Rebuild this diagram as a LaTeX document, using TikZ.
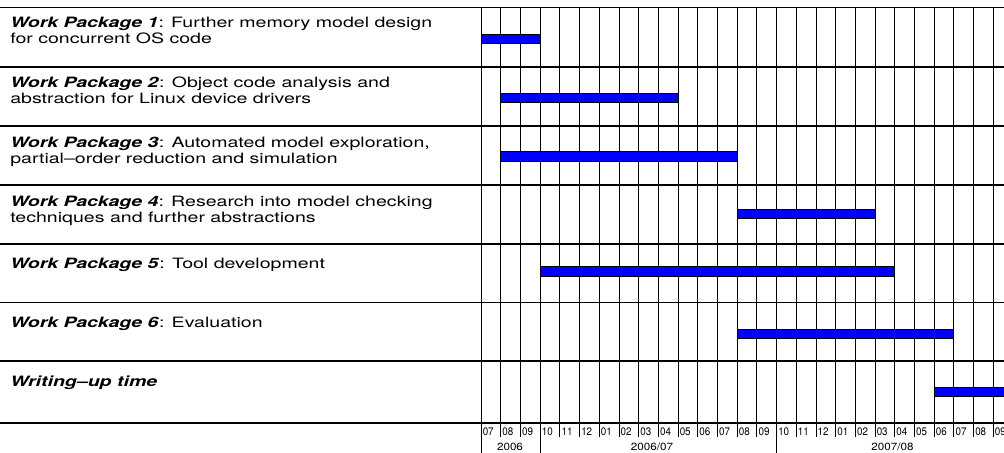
\documentclass[tikz,border=0pt]{standalone}
\usepackage{graphicx}
\usepackage{fontspec}
\setmainfont{TeX Gyre Heros}
\usetikzlibrary{positioning}

% wide label text, as in the chart
\newcommand{\wptext}[1]{\scalebox{1.37}[1]{\begin{tabular}[t]{@{}l@{}}#1\end{tabular}}}
\newcommand{\wpname}[1]{\textbf{\textit{#1}}}

\begin{document}
\begin{tikzpicture}[x=0.75pt, y=-0.75pt,
    wp/.style={anchor=base west, inner sep=0pt, font=\fontsize{10.7}{12}\selectfont},
    month/.style={anchor=base west, inner sep=0pt, font=\fontsize{8.2}{9}\selectfont},
    year/.style={anchor=base, inner sep=0pt, font=\fontsize{7.8}{9}\selectfont},
    rowline/.style={line width=0.8pt},
    gridline/.style={line width=0.6pt},
    bar/.style={draw=black, fill=blue, line width=0.5pt}
  ]
  \useasboundingbox (0,0) rectangle (1004,453);

  % rows
  \foreach \y in {7.5,67,126,185,244,302.5,361,423}
    \draw[rowline] (0,\y) -- (1004,\y);

  % months
  \foreach \m [count=\i from 0] in {07,08,09,10,11,12,01,02,03,04,05,06,07,08,09,10,11,12,01,02,03,04,05,06,07,08,09} {
    \draw[gridline] ({481+19.7*\i},7.5) -- ({481+19.7*\i},437);
    \node[month] (m\i) at ({482.5+19.7*\i},435) {\scalebox{0.9}[1]{\m}};
  }

  % years
  \foreach \i in {0,3,15}
    \draw[gridline] ({481+19.7*\i},423) -- ({481+19.7*\i},453);
  \node[year] (y1) at (510,450) {\scalebox{1.12}[1]{2006}};
  \node[year] (y2) at (652,450) {\scalebox{1.12}[1]{2006/07}};
  \node[year] (y3) at (892.5,450) {\scalebox{1.12}[1]{2007/08}};

  % work packages
  \node[wp] (wp1) at (10,28) {\wptext{\wpname{Work Package 1}: Further memory model design\\for concurrent OS code}};
  \node[wp] (wp2) at (10,87.3) {\wptext{\wpname{Work Package 2}: Object code analysis and\\abstraction for Linux device drivers}};
  \node[wp] (wp3) at (10,147.5) {\wptext{\wpname{Work Package 3}: Automated model exploration,\\partial\textendash order reduction and simulation}};
  \node[wp] (wp4) at (10,206.7) {\wptext{\wpname{Work Package 4}: Research into model checking\\techniques and further abstractions}};
  \node[wp] (wp5) at (10,268) {\wptext{\wpname{Work Package 5}: Tool development}};
  \node[wp] (wp6) at (10,327) {\wptext{\wpname{Work Package 6}: Evaluation}};
  \node[wp] (wp7) at (10,386.5) {\wptext{\wpname{Writing\textendash up time}}};

  % bars
  \foreach \a/\b/\t in {0/3/34.3, 1/10/93.3, 1/13/151.7, 13/20/209, 3/21/266.7, 13/24/329, 23/27/387}
    \draw[bar] ({481+19.7*\a},\t) rectangle ({481+19.7*\b},{\t+9.5});
\end{tikzpicture}
\end{document}
